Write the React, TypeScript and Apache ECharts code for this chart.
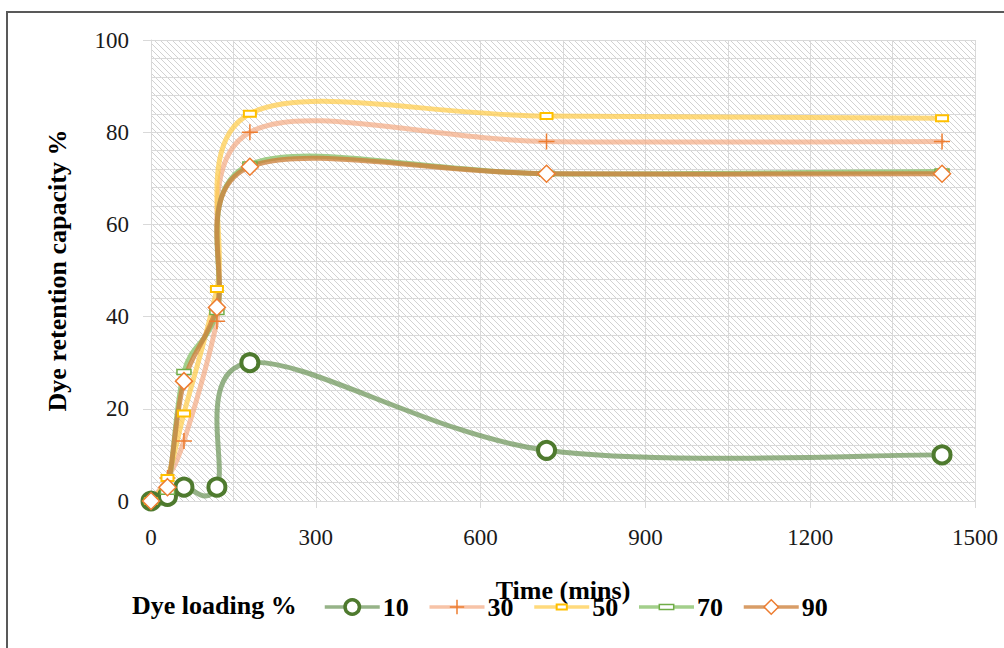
import React, { useEffect, useRef } from "react";
import * as echarts from "echarts";

const times = [0, 30, 60, 120, 180, 720, 1440];
const s10 = [0, 1, 3, 3, 30, 11, 10];
const s30 = [0, 5, 13, 39, 80, 78, 78];
const s50 = [0, 5, 19, 46, 84, 83.5, 83];
const s70 = [0, 2, 28, 41, 73, 71, 71.5];
const s90 = [0, 3, 26, 42, 72.5, 71, 71];
const seriesNames = ["10", "30", "50", "70", "90"];
const xTicks = [0, 300, 600, 900, 1200, 1500];
const yTicks = [0, 20, 40, 60, 80, 100];
const xTitle = "Time (mins)";
const yTitle = "Dye retention capacity %";
const legendTitle = "Dye loading %";

const FONT = '"Liberation Serif", "Times New Roman", serif';

function makeHatch() {
  const s = 6;
  const c = document.createElement("canvas");
  c.width = s;
  c.height = s;
  const ctx = c.getContext("2d")!;
  ctx.fillStyle = "#ffffff";
  ctx.fillRect(0, 0, s, s);
  ctx.strokeStyle = "#d2d2d2";
  ctx.lineWidth = 1;
  ctx.beginPath();
  ctx.moveTo(-1, -1);
  ctx.lineTo(s + 1, s + 1);
  ctx.moveTo(-1, s - 1);
  ctx.lineTo(1, s + 1);
  ctx.moveTo(s - 1, -1);
  ctx.lineTo(s + 1, 1);
  ctx.stroke();
  return c;
}

// Excel-like smoothed curve (Catmull-Rom -> cubic Bezier, tension 1/6)
function smoothPath(pts: number[][]) {
  let d = `M${pts[0][0]},${pts[0][1]}`;
  for (let i = 0; i < pts.length - 1; i++) {
    const p0 = pts[Math.max(i - 1, 0)];
    const p1 = pts[i];
    const p2 = pts[i + 1];
    const p3 = pts[Math.min(i + 2, pts.length - 1)];
    const c1x = p1[0] + (p2[0] - p0[0]) / 6;
    const c1y = p1[1] + (p2[1] - p0[1]) / 6;
    const c2x = p2[0] - (p3[0] - p1[0]) / 6;
    const c2y = p2[1] - (p3[1] - p1[1]) / 6;
    d += ` C${c1x},${c1y} ${c2x},${c2y} ${p2[0]},${p2[1]}`;
  }
  return d;
}

export default function App() {
  const ref = useRef<HTMLDivElement>(null);
  useEffect(() => {
    if (!ref.current) return;
    const chart = echarts.init(ref.current, null, { renderer: "svg" });
    const pair = (arr: number[]) => times.map((t, i) => [t, arr[i]]);
    const all = [s10, s30, s50, s70, s90];
    const lineColors = [
      "rgba(110,150,90,0.72)",
      "rgba(244,170,130,0.7)",
      "rgba(255,205,80,0.75)",
      "rgba(140,195,110,0.8)",
      "rgba(205,130,60,0.78)",
    ];
    const symbols: any[] = [
      "circle",
      "path://M8,0L8,16M0,8L16,8",
      "path://M0,0M17,17M2.5,5.5h12v6h-12z",
      "path://M0,0M0,14M0,4.5h14v5h-14z",
      "diamond",
    ];
    const symbolSizes = [17, 16, 17, 14, 17];
    const itemStyles = [
      { color: "#ffffff", borderColor: "#4E7A2E", borderWidth: 4 },
      { color: "rgba(0,0,0,0)", borderColor: "#ED7D31", borderWidth: 1.5 },
      { color: "#ffffff", borderColor: "#FFC000", borderWidth: 2 },
      { color: "#ffffff", borderColor: "#70AD47", borderWidth: 1.5 },
      { color: "#ffffff", borderColor: "#ED7D31", borderWidth: 1.5 },
    ];
    const legendBorder = [3.5, 1.5, 2, 1.5, 1.5];

    const curveSeries = all.map((arr, k) => ({
      name: "curve-" + seriesNames[k],
      type: "custom",
      data: pair(arr),
      encode: { x: 0, y: 1 },
      silent: true,
      z: 2,
      renderItem: (params: any, api: any) => {
        if (params.dataIndex !== 0) return null;
        const pts = times.map((t, i) => api.coord([t, arr[i]]));
        return {
          type: "path",
          shape: { pathData: smoothPath(pts) },
          style: {
            fill: "none",
            stroke: lineColors[k],
            lineWidth: 5,
            lineCap: "round",
            lineJoin: "round",
          },
        };
      },
    }));

    const markerSeries = all.map((arr, k) => ({
      name: seriesNames[k],
      type: "line",
      data: pair(arr),
      symbol: symbols[k],
      symbolSize: symbolSizes[k],
      showAllSymbol: true,
      z: 3,
      lineStyle: { color: lineColors[k], width: 5, opacity: 0 },
      itemStyle: itemStyles[k],
      emphasis: { disabled: true },
    }));

    const hatch = makeHatch();
    const axisText = { fontFamily: FONT, fontSize: 23, color: "#1a1a1a" };
    const titleText = { fontFamily: FONT, fontSize: 26, fontWeight: "bold", color: "#000" };
    chart.setOption({
      animation: false,
      backgroundColor: "#ffffff",
      grid: {
        left: 151,
        right: 29,
        top: 40,
        bottom: 147,
        show: true,
        borderWidth: 0,
        backgroundColor: { image: hatch, repeat: "repeat" } as any,
      },
      xAxis: {
        type: "value",
        min: xTicks[0],
        max: xTicks[xTicks.length - 1],
        interval: xTicks[1] - xTicks[0],
        name: xTitle,
        nameLocation: "middle",
        nameGap: 76,
        nameTextStyle: titleText,
        axisLine: { show: true, lineStyle: { color: "#d9d9d9", width: 1 } },
        axisTick: { show: true, length: 7, lineStyle: { color: "#d9d9d9" } },
        axisLabel: { ...axisText, margin: 25, formatter: (v: number) => String(v) },
        splitLine: { show: true, lineStyle: { color: "#d9d9d9", width: 1 } },
        minorTick: { show: false, splitNumber: 2 },
        minorSplitLine: { show: true, lineStyle: { color: "#d9d9d9", width: 1 } },
      },
      yAxis: {
        type: "value",
        min: yTicks[0],
        max: yTicks[yTicks.length - 1],
        interval: yTicks[1] - yTicks[0],
        name: yTitle,
        nameLocation: "middle",
        nameGap: 81,
        nameTextStyle: titleText,
        axisLine: { show: true, lineStyle: { color: "#d9d9d9", width: 1 } },
        axisTick: { show: true, length: 8, lineStyle: { color: "#d9d9d9" } },
        axisLabel: { ...axisText, margin: 22, formatter: (v: number) => String(v) },
        splitLine: { show: true, lineStyle: { color: "#d9d9d9", width: 1 } },
        minorTick: { show: false, splitNumber: 5 },
        minorSplitLine: { show: true, lineStyle: { color: "#d9d9d9", width: 1 } },
      },
      legend: {
        left: 323,
        top: 594,
        padding: 0,
        itemWidth: 55,
        itemHeight: 18,
        itemGap: 19,
        textStyle: { ...titleText, padding: [0, 0, 0, -2] },
        data: seriesNames.map((n, k) => ({
          name: n,
          lineStyle: { color: lineColors[k], width: 3.5, opacity: 1 },
          itemStyle: { borderWidth: legendBorder[k] },
        })),
      },
      graphic: [
        {
          type: "rect",
          shape: { x: 7, y: 12, width: 1010, height: 660 },
          style: { fill: "none", stroke: "#595959", lineWidth: 2 },
          silent: true,
        },
        {
          type: "text",
          x: 132,
          y: 605,
          style: {
            text: legendTitle,
            fontFamily: FONT,
            fontSize: 26,
            fontWeight: "bold",
            fill: "#000",
            verticalAlign: "middle",
          },
          silent: true,
        },
      ],
      series: [...curveSeries, ...markerSeries],
    });
    return () => chart.dispose();
  }, []);
  return (
    <div
      ref={ref}
      style={{ position: "absolute", left: 0, top: 0, width: 1004, height: 648 }}
    />
  );
}
